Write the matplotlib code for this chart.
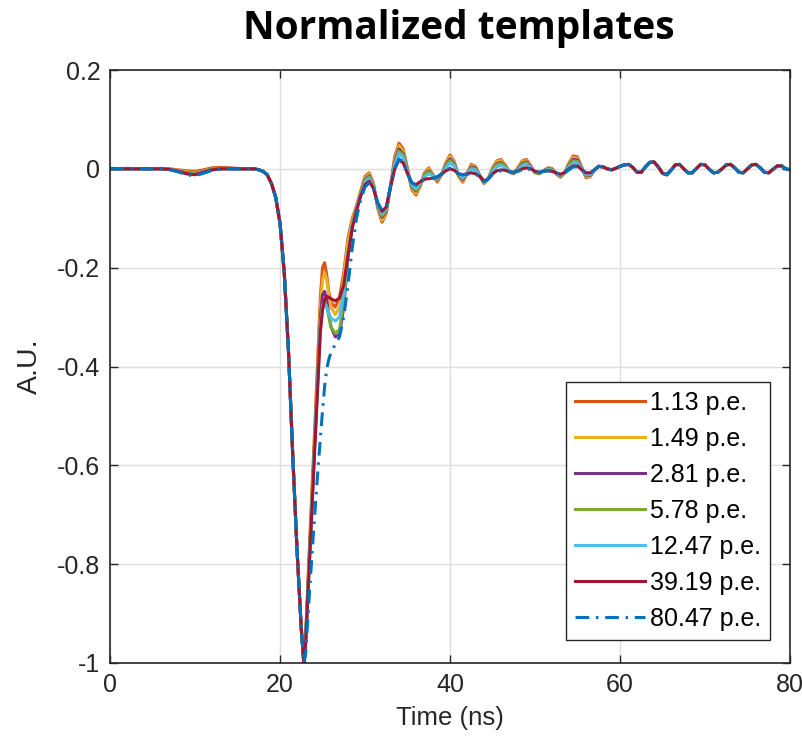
import numpy as np
import matplotlib
matplotlib.use("Agg")
import matplotlib.pyplot as plt

# ---------------- data ----------------
labels = ["1.13 p.e.", "1.49 p.e.", "2.81 p.e.", "5.78 p.e.", "12.47 p.e.", "39.19 p.e.", "80.47 p.e."]
colors = ["#D95319", "#EDB120", "#7E2F8E", "#77AC30", "#4DBEEE", "#A2142F", "#0072BD"]

# time samples (ns)
t_pre = [0, 2, 4, 6, 7, 8, 9, 10, 11, 12, 13, 14, 15, 16, 17]
t_fall = [17.5, 18, 18.5, 19, 19.5, 20, 20.5, 21, 21.5, 22, 22.5, 22.8]
t_rise = [23, 23.5, 24, 24.5, 24.75, 25, 25.25, 25.5, 25.75, 26]
t_ring = np.arange(26.5, 56.6, 0.5)
t_tail = np.arange(57.0, 80.1, 0.5)

# common leading edge and common late ringing
fall_common = [-0.002, -0.005, -0.012, -0.03, -0.058, -0.11, -0.21, -0.37, -0.58, -0.77, -0.93, -1.0]
tail_common = [-0.002, 0.005, 0.004, 0.0, -0.002, 0.001, 0.005, 0.008, 0.009, 0.003,
               -0.007, -0.007, 0.004, 0.013, 0.014, 0.004, -0.009, -0.012, -0.003, 0.008,
               0.009, 0.0, -0.008, -0.008, 0.001, 0.009, 0.008, -0.001, -0.008, -0.007,
               0.0, 0.008, 0.009, 0.002, -0.007, -0.008, 0.0, 0.008, 0.009, 0.002,
               -0.007, -0.008, -0.001, 0.006, 0.006, 0.0, -0.002]

# per-template pre-pulse baseline
pre_113 = [0, 0.001, 0, 0.001, 0, -0.002, -0.004, -0.005, -0.002, 0.002, 0.003, 0.002, 0.001, 0, 0]
pre_149 = [0, 0, 0.001, 0, 0, -0.003, -0.006, -0.007, -0.004, 0, 0.001, 0.001, 0, 0, 0]
pre_281 = [0.001, 0, 0, 0, -0.001, -0.004, -0.008, -0.009, -0.005, -0.001, 0, 0.001, 0, 0, 0]
pre_578 = [0, 0, 0, 0, -0.001, -0.004, -0.009, -0.010, -0.006, -0.001, 0, 0, 0, 0, 0]
pre_1247 = [0, 0, 0, 0, -0.001, -0.005, -0.010, -0.011, -0.006, -0.002, 0, 0, 0, 0, 0]
pre_3919 = [0, 0, 0, 0, -0.001, -0.005, -0.010, -0.012, -0.007, -0.002, 0, 0, 0, 0, 0]
pre_8047 = [0, 0, 0, 0, -0.002, -0.006, -0.012, -0.014, -0.009, -0.003, -0.001, 0, 0, 0, 0]

# per-template trailing edge / first bump
rise_113 = [-0.95, -0.75, -0.56, -0.36, -0.26, -0.20, -0.19, -0.215, -0.25, -0.27]
rise_149 = [-0.955, -0.76, -0.57, -0.37, -0.28, -0.225, -0.21, -0.225, -0.255, -0.28]
rise_281 = [-0.96, -0.77, -0.58, -0.39, -0.30, -0.255, -0.248, -0.265, -0.295, -0.32]
rise_578 = [-0.96, -0.775, -0.585, -0.40, -0.315, -0.275, -0.268, -0.28, -0.30, -0.32]
rise_1247 = [-0.965, -0.78, -0.59, -0.41, -0.325, -0.285, -0.272, -0.28, -0.292, -0.302]
rise_3919 = [-0.965, -0.785, -0.60, -0.42, -0.33, -0.285, -0.265, -0.258, -0.26, -0.263]
rise_8047 = [-0.985, -0.85, -0.72, -0.60, -0.545, -0.49, -0.44, -0.405, -0.385, -0.372]

# per-template ringing, 26.5 .. 56.5 ns
ring_113 = [-0.28, -0.26, -0.21, -0.14, -0.10, -0.075, -0.045, -0.015, -0.008, -0.03,
            -0.08, -0.108, -0.09, -0.035, 0.025, 0.052, 0.04, 0.0, -0.042, -0.053,
            -0.035, -0.008, 0.002, -0.012, -0.027, -0.012, 0.012, 0.028, 0.015, -0.015,
            -0.027, -0.01, 0.009, 0.005, -0.015, -0.03, -0.02, 0.002, 0.016, 0.019,
            0.008, -0.006, -0.01, 0.003, 0.016, 0.019, 0.006, -0.008, -0.01, -0.004,
            0.002, 0.001, -0.01, -0.017, -0.008, 0.012, 0.026, 0.024, 0.002, -0.018, -0.016]
ring_149 = [-0.295, -0.28, -0.22, -0.15, -0.105, -0.077, -0.048, -0.018, -0.01, -0.032,
            -0.078, -0.104, -0.088, -0.035, 0.02, 0.047, 0.036, -0.002, -0.04, -0.05,
            -0.034, -0.01, 0.0, -0.012, -0.025, -0.012, 0.01, 0.025, 0.013, -0.014,
            -0.025, -0.01, 0.007, 0.004, -0.014, -0.029, -0.02, 0.0, 0.014, 0.017,
            0.007, -0.006, -0.01, 0.002, 0.014, 0.017, 0.005, -0.008, -0.01, -0.004,
            0.001, 0.0, -0.01, -0.016, -0.008, 0.01, 0.023, 0.021, 0.002, -0.016, -0.015]
ring_281 = [-0.34, -0.335, -0.28, -0.18, -0.115, -0.08, -0.05, -0.022, -0.014, -0.035,
            -0.075, -0.098, -0.085, -0.035, 0.015, 0.04, 0.03, -0.004, -0.036, -0.045,
            -0.032, -0.012, -0.004, -0.013, -0.023, -0.012, 0.007, 0.02, 0.01, -0.013,
            -0.022, -0.01, 0.004, 0.002, -0.013, -0.028, -0.02, -0.002, 0.01, 0.013,
            0.005, -0.006, -0.009, 0.0, 0.011, 0.014, 0.004, -0.007, -0.009, -0.004,
            0.0, -0.001, -0.01, -0.015, -0.008, 0.008, 0.019, 0.018, 0.002, -0.014, -0.013]
ring_578 = [-0.333, -0.325, -0.27, -0.175, -0.115, -0.08, -0.05, -0.024, -0.016, -0.036,
            -0.074, -0.095, -0.083, -0.036, 0.012, 0.036, 0.027, -0.005, -0.034, -0.043,
            -0.031, -0.013, -0.006, -0.013, -0.022, -0.012, 0.005, 0.017, 0.008, -0.012,
            -0.02, -0.01, 0.002, 0.0, -0.013, -0.028, -0.02, -0.003, 0.008, 0.011,
            0.004, -0.006, -0.009, -0.001, 0.009, 0.012, 0.003, -0.007, -0.009, -0.004,
            -0.001, -0.002, -0.01, -0.014, -0.008, 0.006, 0.016, 0.015, 0.001, -0.013, -0.012]
ring_1247 = [-0.308, -0.30, -0.25, -0.17, -0.115, -0.082, -0.052, -0.027, -0.019, -0.037,
             -0.072, -0.091, -0.08, -0.036, 0.008, 0.031, 0.023, -0.007, -0.032, -0.04,
             -0.03, -0.016, -0.01, -0.014, -0.02, -0.012, 0.002, 0.012, 0.005, -0.011,
             -0.017, -0.01, -0.001, -0.003, -0.013, -0.027, -0.02, -0.005, 0.004, 0.007,
             0.002, -0.006, -0.008, -0.002, 0.006, 0.009, 0.002, -0.006, -0.008, -0.004,
             -0.002, -0.003, -0.009, -0.013, -0.008, 0.004, 0.013, 0.012, 0.0, -0.011, -0.011]
ring_3919 = [-0.267, -0.262, -0.235, -0.175, -0.12, -0.085, -0.055, -0.032, -0.025, -0.04,
             -0.07, -0.086, -0.077, -0.037, 0.0, 0.018, 0.012, -0.01, -0.028, -0.032,
             -0.026, -0.021, -0.02, -0.019, -0.017, -0.011, -0.004, 0.0, -0.003, -0.01,
             -0.012, -0.01, -0.008, -0.01, -0.015, -0.025, -0.02, -0.01, -0.004, -0.002,
             -0.003, -0.006, -0.007, -0.004, 0.0, 0.002, 0.0, -0.005, -0.007, -0.005,
             -0.004, -0.005, -0.008, -0.011, -0.007, 0.0, 0.006, 0.006, -0.002, -0.008, -0.008]
ring_8047 = [-0.355, -0.34, -0.30, -0.235, -0.16, -0.10, -0.062, -0.037, -0.028, -0.04,
             -0.068, -0.084, -0.075, -0.036, 0.0, 0.02, 0.014, -0.01, -0.028, -0.033,
             -0.027, -0.022, -0.02, -0.019, -0.016, -0.01, -0.003, 0.001, -0.003, -0.01,
             -0.012, -0.011, -0.009, -0.011, -0.016, -0.026, -0.021, -0.011, -0.006, -0.004,
             -0.004, -0.006, -0.007, -0.005, -0.002, 0.0, -0.001, -0.005, -0.007, -0.005,
             -0.004, -0.005, -0.008, -0.011, -0.008, -0.002, 0.004, 0.004, -0.003, -0.008, -0.008]

pre_list = [pre_113, pre_149, pre_281, pre_578, pre_1247, pre_3919, pre_8047]
rise_list = [rise_113, rise_149, rise_281, rise_578, rise_1247, rise_3919, rise_8047]
ring_list = [ring_113, ring_149, ring_281, ring_578, ring_1247, ring_3919, ring_8047]

xticks = [0, 20, 40, 60, 80]
yticks = [-1, -0.8, -0.6, -0.4, -0.2, 0, 0.2]
ytick_labels = ["-1", "-0.8", "-0.6", "-0.4", "-0.2", "0", "0.2"]

# ---------------- plot ----------------
plt.rcParams["font.family"] = ["Liberation Sans", "DejaVu Sans"]
fig = plt.figure(figsize=(8.03, 7.46), dpi=100)
ax = fig.add_axes([110 / 803, 1 - 663 / 746, 680 / 803, 593 / 746])

t_all = np.concatenate([t_pre, t_fall, t_rise, t_ring, t_tail])
for i in range(7):
    y = np.concatenate([pre_list[i], fall_common, rise_list[i], ring_list[i], tail_common])
    if i == 6:
        ax.plot(t_all, y, color=colors[i], lw=2.2, ls="-.", dashes=(4.5, 2.2, 0.8, 2.2),
                label=labels[i])
    else:
        ax.plot(t_all, y, color=colors[i], lw=2.2, ls="-", label=labels[i])

ax.set_xlim(0, 80)
ax.set_ylim(-1, 0.2)
ax.set_xticks(xticks)
ax.set_yticks(yticks)
ax.set_yticklabels(ytick_labels)
ax.grid(True, color="#dedede", lw=1.0)
ax.set_axisbelow(True)
ax.tick_params(direction="in", length=6, width=1, top=True, right=True,
               labelsize=18, colors="#262626", pad=7)
for s in ax.spines.values():
    s.set_color("#262626")
    s.set_linewidth(1.2)

ax.set_xlabel("Time (ns)", fontsize=18.5, color="#262626", labelpad=7)
ax.set_ylabel("A.U.", fontsize=20.5, color="#262626", labelpad=10)
fig.text(0.571, 0.962, "Normalized templates", ha="center", va="center",
         fontsize=28, fontweight="bold", family=["Open Sans", "DejaVu Sans"])

leg = ax.legend(loc="lower right", bbox_to_anchor=(0.971, 0.039), borderaxespad=0,
                fontsize=18, frameon=True, fancybox=False, edgecolor="#262626",
                framealpha=1, handlelength=2.8, handletextpad=0.22, labelspacing=0.48,
                borderpad=0.35)
leg.get_frame().set_linewidth(1.0)

fig.savefig("out.png", dpi=100)
